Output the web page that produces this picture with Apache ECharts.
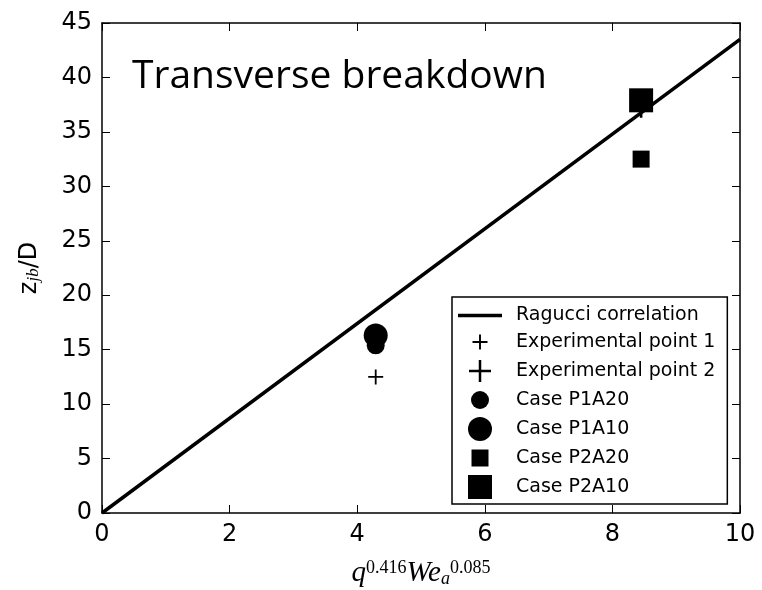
<!DOCTYPE html>
<html><head><meta charset="utf-8">
<script src="https://cdn.jsdelivr.net/npm/echarts@6/dist/echarts.min.js"></script>
<style>html,body{margin:0;padding:0;background:#fff}#c{width:762px;height:590px}</style>
</head><body><div id="c"></div>
<script>
// ---- data ----
const xTicks = [0, 2, 4, 6, 8, 10];
const yTicks = [0, 5, 10, 15, 20, 25, 30, 35, 40, 45];
const raguccLine = [[0, 0], [10, 43.5]];
const expPoint1 = [[4.29, 12.5]];
const expPoint2 = [[8.45, 37.3]];
const caseP1A20 = [[4.29, 15.4]];
const caseP1A10 = [[4.29, 16.3]];
const caseP2A20 = [[8.45, 32.5]];
const caseP2A10 = [[8.45, 37.9]];
const seriesNames = ['Ragucci correlation', 'Experimental point 1', 'Experimental point 2',
  'Case P1A20', 'Case P1A10', 'Case P2A20', 'Case P2A10'];
const titleText = 'Transverse breakdown';

// ---- symbols ----
const PLUS = 'path://M0,44H100V56H0Z M44,0H56V100H44Z';
function framedPlus(s, t) {
  const a = 12 - s / 2, b = 12 + s / 2, c = 12 - t / 2, d = 12 + t / 2;
  return `path://M0,0M24,24M${a},${c}H${b}V${d}H${a}Z M${c},${a}H${d}V${b}H${c}Z`;
}
function framedCircle(r) {
  return `path://M0,0M24,24M${12 - r},12A${r},${r} 0 1,1 ${12 + r},12A${r},${r} 0 1,1 ${12 - r},12Z`;
}
function framedSquare(s) {
  const a = 12 - s / 2, b = 12 + s / 2;
  return `path://M0,0M24,24M${a},${a}H${b}V${b}H${a}Z`;
}
const LINE_ICON = 'path://M0,0H44V3.5H0Z';

const chart = echarts.init(document.getElementById('c'), null, {renderer: 'canvas'});
const axisCommon = {
  type: 'value',
  axisLine: {show: true, onZero: false, lineStyle: {color: '#000', width: 1.5}},
  axisTick: {show: true, inside: true, length: 8, lineStyle: {color: '#000', width: 1}},
  splitLine: {show: false},
};
const labelStyle = {color: '#000', fontSize: 24, fontFamily: 'DejaVu Sans', margin: 10};
const dot = {color: '#000', opacity: 1};

chart.setOption({
  animation: false,
  backgroundColor: '#fff',
  title: {
    text: titleText, left: 132, top: 57, padding: 0,
    textStyle: {fontFamily: 'Open Sans', fontWeight: 'normal', fontSize: 39, color: '#000'}
  },
  grid: {left: 102, right: 22, top: 23, bottom: 77, containLabel: false, outerBoundsMode: 'none'},
  xAxis: [
    Object.assign({}, axisCommon, {
      min: xTicks[0], max: xTicks[xTicks.length - 1], interval: 2, position: 'bottom',
      axisLabel: labelStyle,
      name: '{m|q}{sup|0.416}{m|We}{sub|a}{sup|0.085}',
      nameLocation: 'middle', nameGap: 46,
      nameTextStyle: {
        color: '#000',
        rich: {
          m: {fontFamily: 'Liberation Serif', fontStyle: 'italic', fontSize: 29, color: '#000'},
          sup: {fontFamily: 'Liberation Serif', fontSize: 18, color: '#000', verticalAlign: 'top'},
          sub: {fontFamily: 'Liberation Serif', fontStyle: 'italic', fontSize: 18, color: '#000', verticalAlign: 'bottom'}
        }
      }
    }),
    Object.assign({}, axisCommon, {
      min: xTicks[0], max: xTicks[xTicks.length - 1], interval: 2, position: 'top',
      axisLabel: {show: false}
    })
  ],
  yAxis: [
    Object.assign({}, axisCommon, {
      min: yTicks[0], max: yTicks[yTicks.length - 1], interval: 5, position: 'left',
      axisLabel: labelStyle,
      name: '{n|z}{sub|jb}{n|/D}',
      nameLocation: 'middle', nameRotate: 90, nameGap: 60,
      nameTextStyle: {
        color: '#000',
        rich: {
          n: {fontFamily: 'DejaVu Sans', fontSize: 24, color: '#000'},
          sub: {fontFamily: 'Liberation Serif', fontStyle: 'italic', fontSize: 17, color: '#000', verticalAlign: 'bottom'}
        }
      }
    }),
    Object.assign({}, axisCommon, {
      min: yTicks[0], max: yTicks[yTicks.length - 1], interval: 5, position: 'right',
      axisLabel: {show: false}
    })
  ],
  legend: {
    orient: 'vertical', left: 452, top: 297,
    padding: [9, 12, 5, 6],
    itemWidth: 44, itemHeight: 24, itemGap: 5,
    backgroundColor: '#fff', borderColor: '#000', borderWidth: 1.5, borderRadius: 0,
    textStyle: {fontFamily: 'DejaVu Sans', fontSize: 19, color: '#000', padding: [0, 0, 0, 9]},
    data: [
      {name: seriesNames[0], icon: LINE_ICON},
      {name: seriesNames[1], icon: framedPlus(15, 1.9)},
      {name: seriesNames[2], icon: framedPlus(22, 2.5)},
      {name: seriesNames[3], icon: framedCircle(9)},
      {name: seriesNames[4], icon: framedCircle(12)},
      {name: seriesNames[5], icon: framedSquare(17)},
      {name: seriesNames[6], icon: framedSquare(24)}
    ]
  },
  series: [
    {name: seriesNames[0], type: 'line', data: raguccLine, symbol: 'none', showSymbol: false,
      lineStyle: {color: '#000', width: 3.5}, itemStyle: dot},
    {name: seriesNames[1], type: 'scatter', data: expPoint1, symbol: PLUS, symbolSize: 15, itemStyle: dot},
    {name: seriesNames[2], type: 'scatter', data: expPoint2, symbol: PLUS, symbolSize: 22, itemStyle: dot},
    {name: seriesNames[3], type: 'scatter', data: caseP1A20, symbol: 'circle', symbolSize: 18, itemStyle: dot},
    {name: seriesNames[4], type: 'scatter', data: caseP1A10, symbol: 'circle', symbolSize: 24, itemStyle: dot},
    {name: seriesNames[5], type: 'scatter', data: caseP2A20, symbol: 'rect', symbolSize: 17, itemStyle: dot},
    {name: seriesNames[6], type: 'scatter', data: caseP2A10, symbol: 'rect', symbolSize: 24, itemStyle: dot}
  ]
});
</script></body></html>
